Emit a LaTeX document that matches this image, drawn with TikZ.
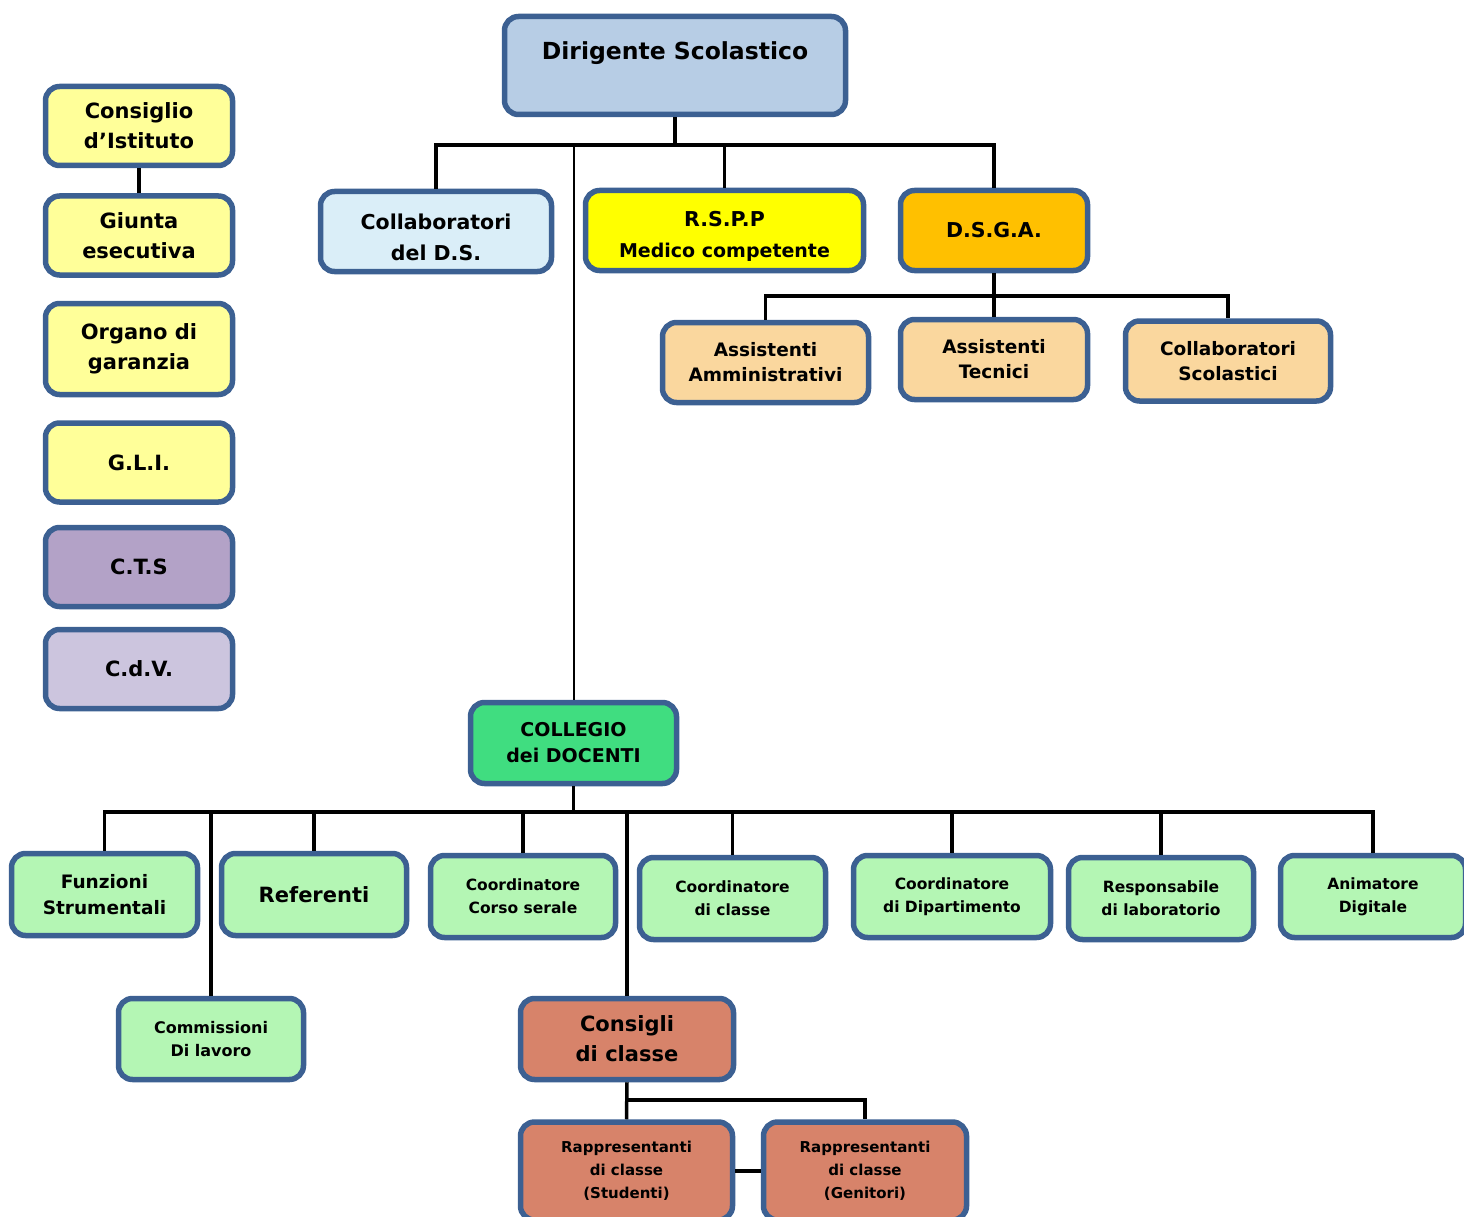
\documentclass[tikz,border=0pt]{standalone}
\usepackage{fontspec}
\setmainfont{DejaVu Sans}
\usepackage{xcolor}
\definecolor{boxborder}{RGB}{60,96,146}
\definecolor{dsblue}{RGB}{183,205,229}
\definecolor{collabblue}{RGB}{218,238,248}
\definecolor{paleyellow}{RGB}{255,255,153}
\definecolor{rsppyellow}{RGB}{255,255,0}
\definecolor{dsgaorange}{RGB}{255,192,0}
\definecolor{ataorange}{RGB}{250,215,158}
\definecolor{ctspurple}{RGB}{179,162,199}
\definecolor{cdvlilac}{RGB}{204,197,222}
\definecolor{collegiogreen}{RGB}{64,221,128}
\definecolor{lightgreen}{RGB}{180,246,180}
\definecolor{consiglired}{RGB}{215,131,106}
\newcommand{\lowstrut}{\rule{0pt}{27pt}}

\begin{document}
\begin{tikzpicture}[x=1pt, y=-1pt,
  box/.style={draw=boxborder, line width=5.5pt, rounded corners=14pt, align=center, inner sep=2pt},
  dsbox/.style={box, fill=dsblue, minimum width=341pt, minimum height=98pt, text height=18pt, text depth=29pt, font=\bfseries\fontsize{23.5}{28}\selectfont},
  sidebox/.style={box, fill=paleyellow, minimum width=187pt, minimum height=79pt, font=\bfseries\fontsize{21}{30}\selectfont},
  topbox/.style={box, minimum height=80pt, font=\bfseries\fontsize{20.5}{31}\selectfont},
  atabox/.style={box, fill=ataorange, minimum height=80pt, font=\bfseries\fontsize{18.5}{25}\selectfont},
  greenbox/.style={box, fill=lightgreen, minimum width=185pt, minimum height=82pt, font=\bfseries\fontsize{15.5}{23}\selectfont},
  redbox/.style={box, fill=consiglired, font=\bfseries\fontsize{15}{23}\selectfont},
  conn/.style={line width=3.5pt, black},
  thinconn/.style={line width=2pt, black}]
	\useasboundingbox (0,0) rectangle (1464,1217);

	\node[dsbox] (ds) at (675,65.5) {Dirigente Scolastico};

	\node[sidebox] (cdi) at (139,126) {Consiglio\\d’Istituto};
	\node[sidebox] (giunta) at (139,235.5) {Giunta\\esecutiva};
	\node[sidebox, minimum height=91pt] (organo) at (139,349) {Organo di\\garanzia};
	\node[sidebox] (gli) at (139,462.5) {G.L.I.};
	\node[sidebox, fill=ctspurple] (cts) at (139,567) {C.T.S};
	\node[sidebox, fill=cdvlilac] (cdv) at (139,669) {C.d.V.};

	\node[topbox, fill=collabblue, minimum width=231pt] (collds) at (436,231.5) {\lowstrut Collaboratori\\del D.S.};
	\node[topbox, fill=rsppyellow, minimum width=278pt] (rspp) at (724.5,230.5) {\lowstrut R.S.P.P\\{\fontsize{19}{31}\selectfont Medico competente}};
	\node[topbox, fill=dsgaorange, minimum width=187pt] (dsga) at (994,230.5) {D.S.G.A.};

	\node[atabox, minimum width=206pt] (amm) at (765.5,362.5) {Assistenti\\Amministrativi};
	\node[atabox, minimum width=187pt] (tec) at (994,359.5) {Assistenti\\Tecnici};
	\node[atabox, minimum width=205pt] (scol) at (1228,361) {Collaboratori\\Scolastici};

	\node[box, fill=collegiogreen, minimum width=206pt, minimum height=81pt, font=\bfseries\fontsize{19}{26}\selectfont] (collegio) at (573.5,743) {COLLEGIO\\dei DOCENTI};

	\node[greenbox, minimum width=186pt, font=\bfseries\fontsize{18.5}{26}\selectfont] (funz) at (104.5,894.5) {Funzioni\\Strumentali};
	\node[greenbox, font=\bfseries\fontsize{21}{26}\selectfont] (ref) at (314,894.5) {Referenti};
	\node[greenbox] (serale) at (523,896.5) {Coordinatore\\Corso serale};
	\node[greenbox, minimum width=186pt] (cclasse) at (732.5,898.5) {Coordinatore\\di classe};
	\node[greenbox, minimum width=197pt] (dip) at (952,896.5) {Coordinatore\\di Dipartimento};
	\node[greenbox] (resp) at (1161,898.5) {Responsabile\\di laboratorio};
	\node[greenbox] (anim) at (1373,896.5) {Animatore\\Digitale};
	\node[greenbox, minimum height=81pt, font=\bfseries\fontsize{16}{23}\selectfont] (comm) at (211,1039) {Commissioni\\Di lavoro};

	\node[redbox, minimum width=213pt, minimum height=81pt, font=\bfseries\fontsize{21}{30}\selectfont] (consigli) at (627,1039) {Consigli\\di classe};
	\node[redbox, minimum width=212pt, minimum height=98pt] (rstud) at (626.5,1171) {Rappresentanti\\di classe\\(Studenti)};
	\node[redbox, minimum width=203pt, minimum height=98pt] (rgen) at (865,1171) {Rappresentanti\\di classe\\(Genitori)};

	\coordinate (busds) at (674,145);
	\coordinate (busdsga) at (994,296);
	\coordinate (buscoll) at (570,812);
	\coordinate (buscons) at (626,1100);

	\draw[conn] (cdi) -- (giunta);

	\draw[conn] (ds.south) -- (ds.south |- busds);
	\draw[conn] (collds.north) |- (busds) -| (dsga.north);
	\draw[conn] (rspp.north) -- (rspp.north |- busds);
	\draw[thinconn] (collegio.north) -- (collegio.north |- busds);

	\draw[conn] (dsga.south) -- (tec.north);
	\draw[conn] (amm.north) |- (busdsga) -| (scol.north);

	\draw[conn] (collegio.south) -- (collegio.south |- buscoll);
	\draw[conn] (funz.north) |- (buscoll) -| (anim.north);
	\foreach \n in {ref,serale,cclasse,dip,resp,comm,consigli}
		\draw[conn] (\n.north) -- (\n.north |- buscoll);

	\draw[conn] (consigli.south) -- (rstud.north);
	\draw[conn] (buscons) -| (rgen.north);
	\draw[conn] (rstud) -- (rgen);
\end{tikzpicture}
\end{document}
